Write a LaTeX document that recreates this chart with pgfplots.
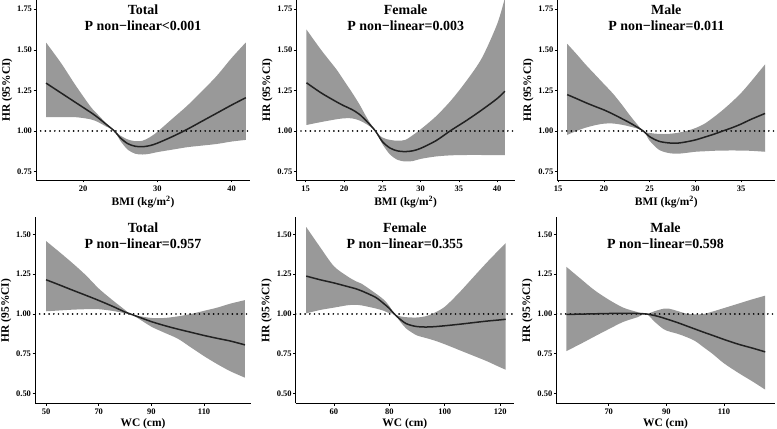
\documentclass[border=0pt]{standalone}
\usepackage{fontspec}
\setmainfont{Liberation Serif}
\usepackage{pgfplots}
\pgfplotsset{compat=1.18}
\usepackage{pgfplotstable}
\usepgfplotslibrary{fillbetween}

\definecolor{band}{HTML}{999999}
\definecolor{curve}{HTML}{222222}

% BMI, total / female / male
\pgfplotstableread{
x est lo hi
15 1.295 1.085 1.545
17 1.235 1.085 1.420
19 1.175 1.085 1.280
21 1.115 1.072 1.150
22 1.082 1.055 1.100
23 1.045 1.030 1.052
24.2 1.000 1.000 1.000
25 0.958 0.940 0.972
26 0.922 0.885 0.948
27 0.906 0.860 0.937
28 0.903 0.855 0.940
29 0.910 0.860 0.962
30 0.925 0.870 0.995
32 0.965 0.885 1.075
34 1.010 0.900 1.155
36 1.060 0.910 1.245
38 1.110 0.920 1.340
40 1.160 0.935 1.450
41.9 1.205 0.945 1.545
}\bmiT
\pgfplotstableread{
x est lo hi
15.1 1.297 1.037 1.625
17 1.235 1.055 1.500
19 1.180 1.072 1.380
20 1.155 1.078 1.310
21 1.133 1.078 1.240
22 1.103 1.065 1.165
23 1.058 1.040 1.080
24.1 1.000 1.000 1.000
25 0.935 0.920 0.960
26 0.895 0.855 0.945
27 0.877 0.822 0.940
28 0.873 0.812 0.945
29 0.878 0.815 0.975
30 0.893 0.828 1.010
32 0.940 0.843 1.090
34 1.005 0.850 1.190
36 1.065 0.852 1.310
38 1.130 0.852 1.450
40 1.200 0.852 1.660
41 1.245 0.852 1.820
}\bmiF
\pgfplotstableread{
x est lo hi
16 1.224 0.976 1.537
17 1.200 1.000 1.475
18 1.175 1.020 1.410
19 1.152 1.035 1.350
20 1.130 1.045 1.290
21 1.104 1.046 1.230
22 1.075 1.038 1.160
23 1.045 1.025 1.085
24.3 1.000 1.000 1.000
25 0.965 0.940 0.988
26 0.937 0.885 0.982
27 0.927 0.865 0.982
28 0.925 0.860 0.988
29 0.933 0.865 1.000
30 0.945 0.872 1.018
31 0.962 0.875 1.045
32 0.980 0.878 1.085
33 1.000 0.879 1.130
34 1.020 0.880 1.180
35 1.043 0.879 1.235
36 1.070 0.878 1.300
37.6 1.108 0.872 1.410
}\bmiM

% WC, total / female / male
\pgfplotstableread{
x est lo hi
50 1.215 1.017 1.458
55 1.183 1.022 1.390
60 1.150 1.027 1.320
65 1.118 1.030 1.245
70 1.085 1.030 1.160
75 1.050 1.020 1.090
80 1.012 1.005 1.025
82 1.000 1.000 1.000
85 0.982 0.972 0.988
90 0.952 0.920 0.975
95 0.927 0.882 0.975
100 0.905 0.845 0.985
105 0.885 0.790 1.000
110 0.865 0.735 1.020
115 0.847 0.685 1.040
120 0.830 0.640 1.065
125.5 0.806 0.600 1.087
}\wcT
\pgfplotstableread{
x est lo hi
50 1.238 1.004 1.546
55 1.215 1.025 1.420
60 1.195 1.040 1.300
65 1.172 1.055 1.235
68 1.158 1.058 1.205
70 1.145 1.054 1.190
75 1.105 1.035 1.130
78 1.065 1.020 1.090
80 1.035 1.005 1.050
81.8 1.000 1.000 1.000
84 0.965 0.950 0.985
86 0.940 0.910 0.980
88 0.928 0.885 0.978
90 0.921 0.865 0.978
93 0.918 0.850 0.985
96 0.920 0.835 1.005
100 0.926 0.810 1.045
105 0.935 0.775 1.130
110 0.945 0.740 1.225
115 0.955 0.705 1.320
120 0.963 0.665 1.410
122 0.967 0.650 1.445
}\wcF
\pgfplotstableread{
x est lo hi
55.3 0.997 0.767 1.296
60 0.999 0.810 1.225
65 1.001 0.858 1.150
70 1.003 0.905 1.090
75 1.004 0.950 1.040
80 1.003 0.980 1.012
83 1.000 1.000 1.000
86 0.990 0.950 1.018
89 0.975 0.905 1.033
91 0.963 0.890 1.033
94 0.945 0.875 1.018
97 0.925 0.855 1.002
100 0.905 0.830 0.998
103 0.885 0.790 1.000
106 0.866 0.750 1.015
110 0.840 0.690 1.037
115 0.810 0.630 1.065
120 0.785 0.575 1.093
124.3 0.762 0.525 1.115
}\wcM

\pgfplotsset{
  rcs/.style={
    scale only axis,
    axis x line*=bottom, axis y line*=left,
    axis line style={line width=0.7bp, black},
    tick align=outside, major tick length=2.5bp,
    tick style={line width=0.6bp, black},
    ticklabel style={font=\fontsize{8.5}{9}\selectfont\bfseries},
    /pgf/number format/assume math mode=true,
    yticklabel style={xshift=2bp, /pgf/number format/fixed,
      /pgf/number format/fixed zerofill, /pgf/number format/precision=2},
    clip mode=individual,
  },
  toprow/.style={rcs, height=180bp, ymin=0.698, ymax=1.807,
    ytick={0.75,1.00,1.25,1.50,1.75}},
  botrow/.style={rcs, height=185.8bp, ymin=0.439, ymax=1.606,
    ytick={0.50,0.75,1.00,1.25,1.50}},
}

% draws band, reference line and curve of one panel
\newcommand{\rcspanel}[3]{%
  \addplot[name path=up, draw=none, smooth] table[x=x, y=hi] {#1};
  \addplot[name path=dn, draw=none, smooth] table[x=x, y=lo] {#1};
  \addplot[band, draw=none] fill between[of=up and dn];
  \addplot[black, line width=1.9bp, line cap=round, dash pattern=on 0bp off 4.7bp]
    coordinates {(#2,1) (#3,1)};
  \addplot[curve, line width=1.5bp, smooth] table[x=x, y=est] {#1};
}

\newcommand{\ttl}[3]{%
  \node[font=\fontsize{14}{15}\selectfont\bfseries] at ([yshift=-10bp]#1.north) {#2};
  \node[font=\fontsize{14}{15}\selectfont\bfseries] at ([yshift=-26bp]#1.north) {#3};
  \node[font=\fontsize{11.5}{13}\selectfont\bfseries, rotate=90] at ([xshift=-29bp]#1.west) {HR (95\%CI)};
}

\begin{document}
\begin{tikzpicture}
% top row: BMI
\begin{axis}[toprow, name=a1, at={(36bp,249bp)}, anchor=south west, width=214bp,
  xmin=13.65, xmax=42.47, xtick={20,30,40}]
  \rcspanel{\bmiT}{13.65}{42.47}
\end{axis}
\begin{axis}[toprow, name=a2, at={(296.3bp,249bp)}, anchor=south west, width=218.7bp,
  xmin=13.77, xmax=42.32, xtick={15,20,25,30,35,40}]
  \rcspanel{\bmiF}{13.77}{42.32}
\end{axis}
\begin{axis}[toprow, name=a3, at={(557.3bp,249bp)}, anchor=south west, width=218bp,
  xmin=14.92, xmax=38.72, xtick={15,20,25,30,35}]
  \rcspanel{\bmiM}{14.92}{38.72}
\end{axis}
% bottom row: WC
\begin{axis}[botrow, name=b1, at={(35bp,25.7bp)}, anchor=south west, width=216bp,
  xmin=45.8, xmax=127.8, xtick={50,70,90,110}]
  \rcspanel{\wcT}{45.8}{127.8}
\end{axis}
\begin{axis}[botrow, name=b2, at={(295.7bp,25.7bp)}, anchor=south west, width=218.3bp,
  xmin=46.2, xmax=125.0, xtick={60,80,100,120}]
  \rcspanel{\wcF}{46.2}{125.0}
\end{axis}
\begin{axis}[botrow, name=b3, at={(556.3bp,25.7bp)}, anchor=south west, width=218.4bp,
  xmin=51.8, xmax=127.6, xtick={70,90,110}]
  \rcspanel{\wcM}{51.8}{127.6}
\end{axis}

\ttl{a1}{Total}{P non−linear<0.001}
\ttl{a2}{Female}{P non−linear=0.003}
\ttl{a3}{Male}{P non−linear=0.011}
\ttl{b1}{Total}{P non−linear=0.957}
\ttl{b2}{Female}{P non−linear=0.355}
\ttl{b3}{Male}{P non−linear=0.598}

\foreach \p in {a1,a2,a3}
  \node[font=\fontsize{11.5}{13}\selectfont\bfseries] at ([yshift=-22bp]\p.south) {BMI (kg/m\textsuperscript{2})};
\foreach \p in {b1,b2,b3}
  \node[font=\fontsize{11.5}{13}\selectfont\bfseries] at ([yshift=-20bp]\p.south) {WC (cm)};

\pgfresetboundingbox
\useasboundingbox (0,0) rectangle (777bp,429bp);
\end{tikzpicture}
\end{document}
